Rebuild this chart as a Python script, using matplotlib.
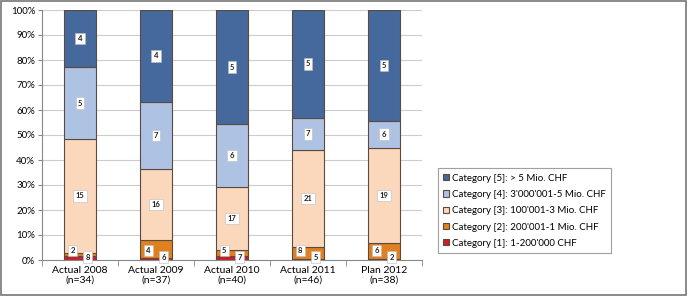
import matplotlib.pyplot as plt
import matplotlib.ticker as ticker
from matplotlib.patches import Rectangle
import numpy as np

plt.rcParams['font.family'] = ['Lato', 'DejaVu Sans']

years = ['Actual 2008\n(n=34)', 'Actual 2009\n(n=37)', 'Actual 2010\n(n=40)',
         'Actual 2011\n(n=46)', 'Plan 2012\n(n=38)']

# share of volume per category, in % (bottom -> top)
cat1_pct = [1.6, 0.9, 1.5, 0.5, 0.3]
cat2_pct = [1.3, 7.1, 2.5, 4.8, 6.4]
cat3_pct = [45.6, 28.3, 25.3, 38.7, 38.2]
cat4_pct = [28.6, 27.0, 25.1, 12.9, 10.8]
cat5_pct = [22.9, 36.7, 45.6, 43.1, 44.3]

# number of projects per category (box labels)
cat1_n = [8, 6, 7, 5, 2]
cat2_n = [2, 4, 5, 8, 6]
cat3_n = [15, 16, 17, 21, 19]
cat4_n = [5, 7, 6, 7, 6]
cat5_n = [4, 4, 5, 5, 5]

names = ["Category [1]: 1-200'000 CHF",
         "Category [2]: 200'001-1 Mio. CHF",
         "Category [3]: 100'001-3 Mio. CHF",
         "Category [4]: 3'000'001-5 Mio. CHF",
         "Category [5]: > 5 Mio. CHF"]
colors = ['#c8202a', '#e0801e', '#fbd8bc', '#aec3e3', '#45689d']

fig = plt.figure(figsize=(6.88, 2.96), dpi=100)
ax = fig.add_axes([42 / 688, 36 / 296, 380 / 688, 250 / 296])

x = np.arange(len(years))
width = 0.41
series = [cat1_pct, cat2_pct, cat3_pct, cat4_pct, cat5_pct]
counts = [cat1_n, cat2_n, cat3_n, cat4_n, cat5_n]
bottom = np.zeros(len(years))
bars = []
for vals, col, name in zip(series, colors, names):
    ax.bar(x, vals, width, bottom=bottom, color=col, edgecolor='#5a4a40',
           linewidth=0.8, label=name, zorder=3)
    bars.append(bottom.copy())
    bottom = bottom + np.array(vals)

box = dict(boxstyle='square,pad=0.3', facecolor='white', edgecolor='#bbbbbb', linewidth=0.4)
lab = dict(fontsize=5.5, fontweight='bold', color='#222222', ha='center', va='center',
           bbox=box, zorder=5)

# big segments: label in the middle
for k in (2, 3, 4):
    for i in range(len(years)):
        ax.text(x[i], bars[k][i] + series[k][i] / 2, str(counts[k][i]), **lab)
# small segments: labels shifted so they don't overlap
for i in range(len(years)):
    ax.text(x[i] - 0.1, 3.8, str(cat2_n[i]), **lab)
    ax.text(x[i] + 0.1, 1.2, str(cat1_n[i]), **lab)

ax.set_ylim(0, 100)
ax.set_xlim(-0.5, len(years) - 0.5)
ax.yaxis.set_major_locator(ticker.MultipleLocator(10))
ax.yaxis.set_major_formatter(ticker.FuncFormatter(lambda v, p: '{:d}%'.format(int(v))))
ax.set_xticks(x)
ax.set_xticklabels(years, fontsize=7.5)
ax.xaxis.set_minor_locator(ticker.FixedLocator(np.arange(-0.5, len(years), 1)))
ax.tick_params(axis='x', which='major', length=0, pad=4)
ax.tick_params(axis='x', which='minor', length=4, color='#888888')
ax.tick_params(axis='y', labelsize=7, length=3, color='#888888', pad=2)
ax.grid(axis='y', color='#cccccc', linewidth=0.8, zorder=0)
for s in ('top', 'right'):
    ax.spines[s].set_visible(False)
for s in ('left', 'bottom'):
    ax.spines[s].set_color('#888888')

h, l = ax.get_legend_handles_labels()
leg = fig.legend(h[::-1], l[::-1], loc='lower left', bbox_to_anchor=(433 / 688, 38 / 296),
                 fontsize=7, frameon=True, fancybox=False, edgecolor='#888888',
                 handlelength=0.6, handleheight=0.6, handletextpad=0.3,
                 labelspacing=0.75, borderpad=0.55)
leg.get_frame().set_linewidth(0.8)

fig.patches.append(Rectangle((0.002, 0.004), 0.995, 0.992, transform=fig.transFigure,
                             fill=False, edgecolor='#777777', linewidth=1.2))

fig.savefig('out.png', dpi=100)
